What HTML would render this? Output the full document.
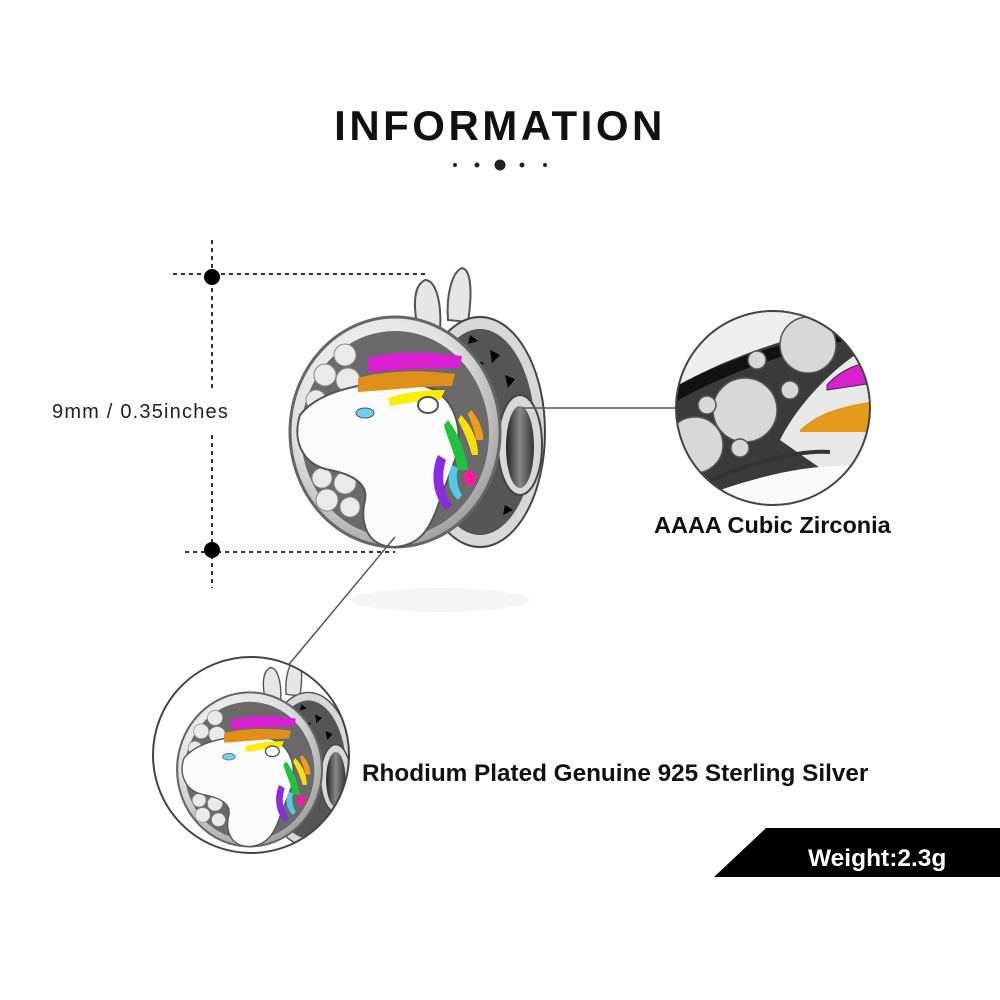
<!DOCTYPE html>
<html><head><meta charset="utf-8"><style>
html,body{margin:0;padding:0;background:#fff}
svg{display:block}
text{font-family:"Liberation Sans",Arial,sans-serif}
</style></head><body>
<svg width="1000" height="1000" viewBox="0 0 1000 1000" xmlns="http://www.w3.org/2000/svg">
<defs>
<radialGradient id="silver" cx="40%" cy="35%" r="70%">
<stop offset="0" stop-color="#ffffff"/><stop offset="0.6" stop-color="#e0e0e0"/><stop offset="1" stop-color="#9a9a9a"/>
</radialGradient>
<linearGradient id="hole" x1="0" x2="1"><stop offset="0" stop-color="#222"/><stop offset="0.5" stop-color="#888"/><stop offset="1" stop-color="#333"/></linearGradient>
<clipPath id="cBL"><circle cx="251" cy="755" r="98"/></clipPath>
<clipPath id="cTR"><circle cx="773" cy="408" r="97"/></clipPath>
<g id="charm">
 <path d="M418 330 C412 300 415 285 425 280 C435 280 442 300 440 330 Z" fill="#e6e6e6" stroke="#555" stroke-width="2"/>
 <path d="M448 320 C446 295 452 272 462 268 C472 270 472 295 468 322 Z" fill="#e6e6e6" stroke="#555" stroke-width="2"/>
 <ellipse cx="480" cy="432" rx="65" ry="115" fill="#d8d8d8" stroke="#444" stroke-width="2"/>
 <ellipse cx="480" cy="432" rx="55" ry="103" fill="#555"/>
 <path d="M470 335 l8 6 l-10 3z M490 350 l10 5 l-8 8z M505 375 l10 4 l-7 9z M475 360 l9 3 l-6 8z M505 505 l8 5 l-10 5z" fill="#000"/>
 <ellipse cx="520" cy="445" rx="22" ry="50" fill="#d8d8d8" stroke="#444" stroke-width="2"/>
 <ellipse cx="520" cy="447" rx="14" ry="41" fill="url(#hole)"/>
 <ellipse cx="395" cy="432" rx="105" ry="115" fill="url(#silver)" stroke="#666" stroke-width="3"/>
 <ellipse cx="395" cy="434" rx="94" ry="103" fill="#6a6a6a"/>
 <g fill="#eaeaea" stroke="#888" stroke-width="1">
  <circle cx="345" cy="355" r="11"/><circle cx="325" cy="375" r="11"/><circle cx="348" cy="380" r="12"/><circle cx="316" cy="400" r="10"/>
  <circle cx="322" cy="478" r="10"/><circle cx="345" cy="483" r="11"/><circle cx="327" cy="500" r="11"/><circle cx="350" cy="507" r="10"/>
 </g>
 <path d="M300 415 C320 390 370 378 420 385 C455 392 465 430 455 460 L440 500 C430 530 420 545 395 547 C365 547 360 520 365 500 C368 485 355 475 330 470 C302 465 292 440 300 415 Z" fill="#fbfbfb" stroke="#555" stroke-width="2"/>
 <path d="M368 358 C395 350 430 352 462 356 L460 368 C430 368 395 370 368 372Z" fill="#d91fd0"/>
 <path d="M358 378 C385 370 425 370 455 374 L452 386 C425 386 390 390 358 392Z" fill="#e08f1a"/>
 <path d="M388 398 C405 392 425 390 445 390 L440 400 C420 400 405 404 390 406Z" fill="#ffee00"/>
 <path d="M448 420 C456 430 466 450 468 470 L458 470 C454 450 446 435 444 425Z" fill="#22c040"/>
 <path d="M461 415 C471 425 478 440 478 455 L472 455 C468 440 462 428 458 420Z" fill="#ffe000"/>
 <path d="M471 410 C478 418 484 430 483 440 L476 440 C474 428 470 420 468 414Z" fill="#f29a1a"/>
 <path d="M438 455 C431 470 431 495 446 510 L452 505 C441 490 442 472 446 460Z" fill="#8a2be2"/>
 <path d="M452 465 C446 478 448 490 458 500 L462 495 C456 485 456 475 458 468Z" fill="#55c8e8"/>
 <ellipse cx="470" cy="478" rx="6" ry="8" fill="#ff1aa0"/>
 <ellipse cx="365" cy="413" rx="9" ry="5" fill="#6ed0ef" stroke="#555"/>
 <ellipse cx="428" cy="405" rx="10" ry="8" fill="#fff" stroke="#555" stroke-width="2"/>
</g>
</defs>

<text x="500" y="140" text-anchor="middle" font-size="42" font-weight="bold" letter-spacing="3.5" fill="#111">INFORMATION</text>
<g fill="#222"><circle cx="455" cy="165" r="2"/><circle cx="477" cy="165" r="2.5"/><circle cx="500" cy="165" r="5.5"/><circle cx="522" cy="165" r="2.5"/><circle cx="545" cy="165" r="2"/></g>

<g stroke="#333" stroke-width="2" stroke-dasharray="4 4" fill="none">
 <line x1="212" y1="240" x2="212" y2="390"/>
 <line x1="212" y1="435" x2="212" y2="588"/>
 <line x1="173" y1="274" x2="428" y2="274"/>
 <line x1="185" y1="552" x2="395" y2="552"/>
</g>
<circle cx="212" cy="277" r="8" fill="#000"/>
<circle cx="212" cy="550" r="8" fill="#000"/>
<text x="52" y="418" font-size="20" letter-spacing="1.2" fill="#222">9mm / 0.35inches</text>

<ellipse cx="440" cy="600" rx="90" ry="12" fill="#f5f5f5"/>
<use href="#charm"/>

<line x1="522" y1="408" x2="676" y2="408" stroke="#555" stroke-width="1.5"/>
<line x1="395" y1="537" x2="286" y2="668" stroke="#555" stroke-width="1.5"/>

<g clip-path="url(#cTR)">
 <rect x="670" y="300" width="210" height="210" fill="#3a3a3a"/>
 <path d="M670 300 L880 300 L880 320 C800 330 720 360 670 390Z" fill="#efefef"/>
 <path d="M670 390 C720 360 800 335 880 325 L880 335 C800 345 720 375 670 405Z" fill="#111"/>
 <g fill="#d8d8d8" stroke="#555" stroke-width="1.5">
  <circle cx="808" cy="345" r="28"/><circle cx="745" cy="410" r="32"/><circle cx="695" cy="445" r="28"/>
  <circle cx="757" cy="360" r="9"/><circle cx="707" cy="405" r="9"/><circle cx="790" cy="390" r="9"/><circle cx="740" cy="448" r="9"/>
 </g>
 <path d="M780 440 C800 400 840 360 880 340 L880 470 C820 470 780 480 720 505 L720 520 L880 520 L880 510Z" fill="#e8e8e8"/>
 <path d="M827 385 C840 370 860 362 880 360 L880 382 C860 385 840 388 827 390Z" fill="#d91fd0" stroke="#333"/>
 <path d="M800 430 C820 410 850 405 880 400 L880 432 C850 432 820 432 800 432Z" fill="#e39a1a"/>
 <path d="M720 490 C780 470 830 460 880 470 L880 515 L720 515Z" fill="#fafafa"/>
 <path d="M710 480 C760 460 800 450 830 452" stroke="#333" stroke-width="4" fill="none"/>
</g>
<circle cx="773" cy="408" r="97" fill="none" stroke="#444" stroke-width="2"/>
<text x="654" y="533" font-size="23.5" font-weight="bold" fill="#111">AAAA Cubic Zirconia</text>

<g clip-path="url(#cBL)">
 <rect x="150" y="655" width="205" height="205" fill="#fff"/>
 <g transform="translate(-23 480) scale(0.69 0.67)"><use href="#charm"/></g>
</g>
<circle cx="251" cy="755" r="98" fill="none" stroke="#444" stroke-width="2"/>
<text x="362" y="781" font-size="24.3" font-weight="bold" fill="#111">Rhodium Plated Genuine 925 Sterling Silver</text>

<polygon points="714,877 766,828 1000,828 1000,877" fill="#000"/>
<text x="808" y="866" font-size="24.5" font-weight="bold" fill="#fff">Weight:2.3g</text>
</svg>
</body></html>
